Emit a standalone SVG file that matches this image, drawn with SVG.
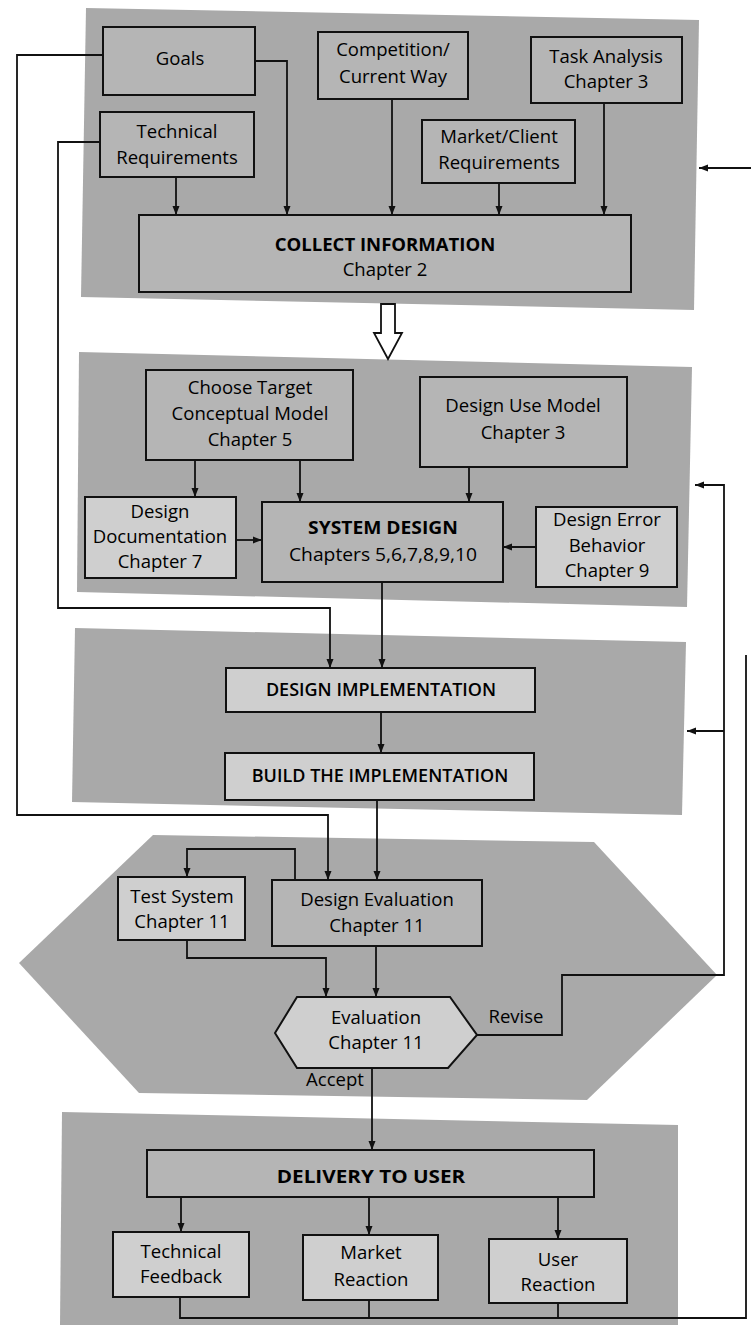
<svg xmlns="http://www.w3.org/2000/svg" width="751" height="1325" viewBox="0 0 751 1325">
<style>
.panel{fill:#a9a9a9;stroke:none}
.box{fill:#b5b5b5;stroke:#111;stroke-width:2}
.lt{fill:#cfcfcf}
.t{font-family:"Open Sans","Liberation Sans",sans-serif;font-size:18px;fill:#000;text-anchor:middle}
.b{font-weight:bold}
.sb{font-weight:600}
.c{fill:none;stroke:#111;stroke-width:1.8}
.ca{fill:none;stroke:#111;stroke-width:1.8;marker-end:url(#ah)}
</style>
<defs>
<marker id="ah" markerWidth="10" markerHeight="10" refX="9" refY="5" orient="auto" markerUnits="userSpaceOnUse">
<path d="M0,1.5 L9,5 L0,8.5 Z" fill="#111"/>
</marker>
</defs>
<rect width="751" height="1325" fill="#ffffff"/>

<g id="panels">
<polygon id="panel-collect" class="panel" points="86,8 699,20 694,310 81,297"/>
<polygon id="panel-design" class="panel" points="79,352 692,367 687,607 77,592"/>
<polygon id="panel-impl" class="panel" points="75,628 686,642 682,815 72,802"/>
<polygon id="panel-eval" class="panel" points="153,835 594,842 717,975 587,1100 139,1093 19,963"/>
<polygon id="panel-delivery" class="panel" points="62,1112 678,1125 678,1325 60,1325"/>
</g>

<g id="connectors">
<polyline class="ca" points="255,61 287,61 287,215"/>
<polyline class="ca" points="176,177 176,215"/>
<polyline class="ca" points="392,99 392,215"/>
<polyline class="ca" points="499,183 499,215"/>
<polyline class="ca" points="604,103 604,215"/>
<polyline class="ca" points="103,55 17,55 17,815 328,815 328,880"/>
<polyline class="ca" points="100,142 58,142 58,608 330,608 330,668"/>
<polygon points="381,304 395,304 395,333 402,333 388,359 374,333 381,333" fill="#fff" stroke="#111" stroke-width="1.8"/>
<polyline class="ca" points="195,460 195,497"/>
<polyline class="ca" points="300,460 300,502"/>
<polyline class="ca" points="469,467 469,502"/>
<polyline class="ca" points="236,540 262,540"/>
<polyline class="ca" points="536,547 503,547"/>
<polyline class="ca" points="382,582 382,668"/>
<polyline class="ca" points="381,712 381,753"/>
<polyline class="ca" points="377,800 377,880"/>
<polyline class="ca" points="295,880 295,849 187,849 187,877"/>
<polyline class="ca" points="187,940 187,958 326,958 326,997"/>
<polyline class="ca" points="376,946 376,997"/>
<polyline class="ca" points="477,1035 562,1035 562,975 724,975 724,485 695,485"/>
<polyline class="ca" points="724,731 687,731"/>
<polyline class="ca" points="372,1068 372,1150"/>
<polyline class="ca" points="181,1197 181,1232"/>
<polyline class="ca" points="369,1197 369,1235"/>
<polyline class="ca" points="558,1197 558,1239"/>
<polyline class="c" points="180,1297 180,1318 746,1318 746,655"/>
<polyline class="c" points="369,1300 369,1318"/>
<polyline class="c" points="558,1303 558,1318"/>
<polyline class="ca" points="751,168 699,168"/>
</g>

<g id="goals"><rect class="box" x="103" y="27" width="152" height="68"/>
<text class="t" transform="translate(180,65) scale(1.03,1)">Goals</text></g>
<g id="technical-requirements"><rect class="box" x="100" y="112" width="154" height="65"/>
<text class="t" transform="translate(177,138) scale(1.03,1)"><tspan x="0">Technical</tspan><tspan x="0" dy="26">Requirements</tspan></text></g>
<g id="competition"><rect class="box" x="318" y="32" width="150" height="67"/>
<text class="t" transform="translate(393,56) scale(1.03,1)"><tspan x="0">Competition/</tspan><tspan x="0" dy="27">Current Way</tspan></text></g>
<g id="task-analysis"><rect class="box" x="531" y="37" width="151" height="66"/>
<text class="t" transform="translate(606,63) scale(1.03,1)"><tspan x="0">Task Analysis</tspan><tspan x="0" dy="25">Chapter 3</tspan></text></g>
<g id="market-client"><rect class="box" x="422" y="120" width="153" height="63"/>
<text class="t" transform="translate(499,143) scale(1.03,1)"><tspan x="0">Market/Client</tspan><tspan x="0" dy="26">Requirements</tspan></text></g>
<g id="collect-information"><rect class="box" x="139" y="215" width="492" height="77"/>
<text class="t" transform="translate(385,251) scale(1.03,1)"><tspan x="0" class="b">COLLECT INFORMATION</tspan><tspan x="0" dy="25">Chapter 2</tspan></text></g>

<g id="choose-target"><rect class="box" x="146" y="370" width="207" height="90"/>
<text class="t" transform="translate(250,394) scale(1.03,1)"><tspan x="0">Choose Target</tspan><tspan x="0" dy="26">Conceptual Model</tspan><tspan x="0" dy="26">Chapter 5</tspan></text></g>
<g id="design-use-model"><rect class="box" x="420" y="377" width="207" height="90"/>
<text class="t" transform="translate(523,412) scale(1.03,1)"><tspan x="0">Design Use Model</tspan><tspan x="0" dy="27">Chapter 3</tspan></text></g>
<g id="design-documentation"><rect class="box lt" x="85" y="497" width="151" height="81"/>
<text class="t" transform="translate(160,518) scale(1.03,1)"><tspan x="0">Design</tspan><tspan x="0" dy="25">Documentation</tspan><tspan x="0" dy="25">Chapter 7</tspan></text></g>
<g id="system-design"><rect class="box" x="262" y="502" width="241" height="80"/>
<text class="t" transform="translate(383,534) scale(1.07,1)"><tspan x="0" class="b">SYSTEM DESIGN</tspan><tspan x="0" dy="27">Chapters 5,6,7,8,9,10</tspan></text></g>
<g id="design-error"><rect class="box lt" x="536" y="507" width="141" height="80"/>
<text class="t" transform="translate(607,526) scale(1.03,1)"><tspan x="0">Design Error</tspan><tspan x="0" dy="26">Behavior</tspan><tspan x="0" dy="25">Chapter 9</tspan></text></g>

<g id="design-implementation"><rect class="box lt" x="226" y="668" width="309" height="44"/>
<text class="t sb" transform="translate(381,696) scale(1.0,1)">DESIGN IMPLEMENTATION</text></g>
<g id="build-implementation"><rect class="box lt" x="225" y="753" width="309" height="47"/>
<text class="t sb" transform="translate(380,782) scale(1.0,1)">BUILD THE IMPLEMENTATION</text></g>

<g id="test-system"><rect class="box lt" x="118" y="877" width="127" height="63"/>
<text class="t" transform="translate(182,903) scale(1.03,1)"><tspan x="0">Test System</tspan><tspan x="0" dy="25">Chapter 11</tspan></text></g>
<g id="design-evaluation"><rect class="box" x="272" y="880" width="210" height="66"/>
<text class="t" transform="translate(377,906) scale(1.03,1)"><tspan x="0">Design Evaluation</tspan><tspan x="0" dy="26">Chapter 11</tspan></text></g>
<g id="evaluation"><polygon class="box lt" points="275,1033 297,997 450,997 477,1035 448,1068 297,1068"/>
<text class="t" transform="translate(376,1024) scale(1.03,1)"><tspan x="0">Evaluation</tspan><tspan x="0" dy="25">Chapter 11</tspan></text></g>
<g id="labels">
<text class="t" transform="translate(516,1023) scale(1.03,1)">Revise</text>
<text class="t" transform="translate(335,1086) scale(1.03,1)">Accept</text>
</g>

<g id="delivery"><rect class="box" x="147" y="1150" width="447" height="47"/>
<text class="t b" transform="translate(371,1183) scale(1.15,1)">DELIVERY TO USER</text></g>
<g id="technical-feedback"><rect class="box lt" x="113" y="1232" width="136" height="65"/>
<text class="t" transform="translate(181,1258) scale(1.03,1)"><tspan x="0">Technical</tspan><tspan x="0" dy="25">Feedback</tspan></text></g>
<g id="market-reaction"><rect class="box lt" x="303" y="1235" width="135" height="65"/>
<text class="t" transform="translate(371,1259) scale(1.03,1)"><tspan x="0">Market</tspan><tspan x="0" dy="27">Reaction</tspan></text></g>
<g id="user-reaction"><rect class="box lt" x="489" y="1239" width="138" height="64"/>
<text class="t" transform="translate(558,1266) scale(1.03,1)"><tspan x="0">User</tspan><tspan x="0" dy="25">Reaction</tspan></text></g>
</svg>
